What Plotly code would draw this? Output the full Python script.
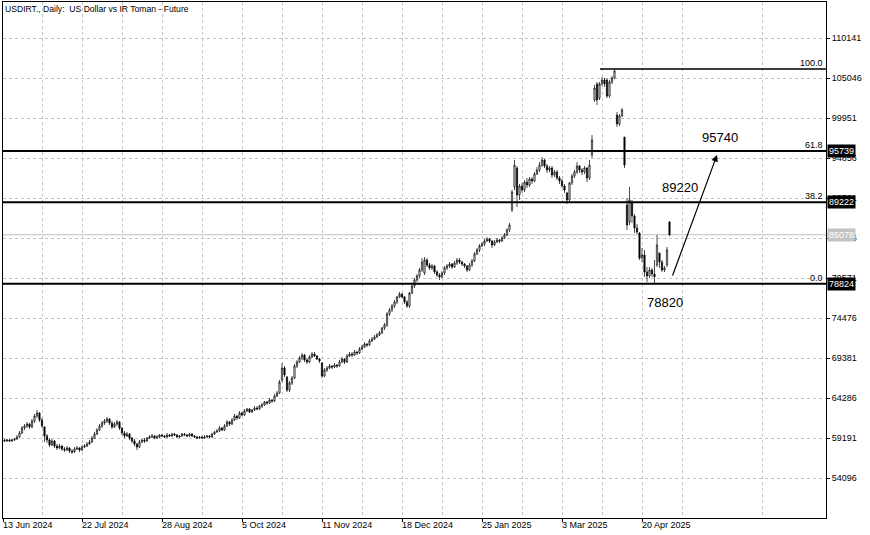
import plotly.graph_objects as go

# ---------------- data (daily bars) ----------------
open_ = [
    58940, 58810, 58940, 58810, 58940, 59060, 59320, 59830, 60460, 60720,
    60970, 60590, 61360, 61990, 62380, 61480, 60590, 59450, 58940, 58300,
    58810, 58170, 57920, 58170, 57790, 57660, 57920, 57540, 57410, 57790,
    57920, 57660, 58040, 58170, 58430, 58680, 59190, 59700, 60210, 60720,
    61100, 61360, 61610, 61100, 60590, 60970, 61230, 60460, 59830, 59450,
    59700, 59190, 58810, 58430, 58040, 58680, 58940, 58810, 59190, 59320,
    59450, 59190, 59320, 59570, 59450, 59320, 59570, 59450, 59700, 59570,
    59320, 59450, 59700, 59570, 59450, 59700, 59450, 59320, 59190, 59320,
    59190, 59320, 59450, 59320, 59700, 59960, 60080, 60460, 60210, 60720,
    61230, 60970, 61480, 61990, 61740, 62380, 62120, 62630, 62890, 62500,
    62760, 63010, 62890, 63270, 63400, 63780, 63650, 64030, 63900, 64540,
    64920, 66580, 68110, 66960, 65310, 66200, 66830, 68360, 68870, 69380,
    69760, 69130, 68870, 69510, 69890, 69640, 69250, 68740, 67090, 67850,
    68110, 68360, 68230, 68490, 68360, 68870, 69250, 68870, 69640, 69890,
    69760, 70150, 70020, 70530, 70780, 71160, 71040, 71550, 71800, 72060,
    72310, 72570, 73200, 73590, 74990, 75500, 76010, 76510, 77150, 77530,
    77150, 76510, 76010, 77660, 78550, 79320, 79830, 80590, 80210, 81860,
    81230, 80850, 81100, 80340, 79950, 79700, 80210, 80850, 81100, 81350,
    80970, 81480, 81860, 81610, 81350, 81100, 80590, 81230, 81740, 82630,
    83140, 83650, 83900, 84280, 84540, 84280, 83770, 84160, 84410, 84280,
    84670, 85050, 85690, 88230, 91160, 93580, 90140, 91290, 90780, 91800,
    91420, 92180, 91930, 92820, 93330, 93960, 94600, 93840, 93330, 93580,
    92690, 93070, 92310, 91930, 91290, 90400, 89510, 91670, 92560, 93070,
    93840, 93330, 93070, 93580, 92310, 95240, 102240, 104280, 102500, 104280,
    104790, 104790, 102750, 104540, 105050, 100330, 99190, 100210, 97530, 88870,
    86700, 89250, 87470, 85940, 85300, 82120, 82500, 80340, 79830, 80590,
    80080, 81230, 82760, 81610, 80590, 81230, 86700,
]
high = [
    59060, 59060, 59060, 59060, 59190, 59570, 60080, 60720, 60970, 61230,
    61100, 61610, 62250, 62760, 62500, 61740, 60720, 59700, 59190, 59060,
    58940, 58430, 58430, 58300, 58040, 58170, 58040, 57790, 58040, 58170,
    58040, 58300, 58430, 58680, 58940, 59450, 59960, 60460, 60970, 61360,
    61610, 61870, 61740, 61360, 61230, 61480, 61360, 60590, 60080, 59960,
    59830, 59320, 59060, 58550, 58940, 59060, 59190, 59320, 59570, 59700,
    59570, 59570, 59700, 59700, 59570, 59830, 59700, 59830, 59830, 59700,
    59570, 59830, 59830, 59700, 59830, 59830, 59570, 59450, 59450, 59450,
    59570, 59570, 59570, 59830, 60080, 60340, 60720, 60590, 60970, 61480,
    61360, 61740, 62250, 62120, 62630, 62500, 62890, 63010, 63010, 62890,
    63270, 63270, 63400, 63650, 63900, 63900, 64290, 64160, 64800, 65180,
    66580, 68740, 68360, 67090, 66450, 67090, 68620, 69130, 69640, 70020,
    69890, 69380, 69760, 70150, 70150, 69760, 69380, 68870, 68110, 68360,
    68620, 68490, 68740, 68620, 69130, 69510, 69380, 69890, 70150, 70150,
    70400, 70270, 70780, 71040, 71420, 71290, 71800, 72060, 72310, 72570,
    72820, 73330, 73840, 75240, 75750, 76260, 76770, 77280, 77790, 77660,
    77280, 76770, 77790, 78810, 79570, 80080, 80850, 82120, 82250, 82120,
    81480, 81350, 81230, 80590, 80210, 80460, 81100, 81350, 81610, 81480,
    81740, 82120, 82120, 81740, 81480, 81230, 81480, 81990, 82880, 83390,
    83900, 84160, 84540, 84790, 84670, 84410, 84410, 84670, 84540, 84920,
    85300, 85940, 86580, 90780, 94600, 93840, 91540, 91670, 92050, 92310,
    92440, 92440, 93070, 93710, 94350, 94980, 94730, 94090, 93840, 93840,
    93330, 93330, 92560, 92180, 91540, 90530, 91800, 92820, 93330, 94350,
    93960, 93580, 93840, 93710, 94600, 97790, 104150, 104540, 104540, 105170,
    105050, 105050, 104790, 105300, 106190, 100720, 100460, 101230, 97530, 89760,
    91160, 89510, 87720, 86450, 85430, 83390, 83140, 80970, 80970, 80850,
    81860, 85050, 82760, 81860, 81100, 83520, 86830,
]
low = [
    58680, 58680, 58680, 58680, 58810, 58940, 59190, 59700, 60210, 60460,
    60340, 60460, 61100, 61740, 61230, 60460, 58680, 58550, 58040, 58170,
    57920, 57660, 57790, 57540, 57410, 57540, 57280, 57150, 57280, 57660,
    57410, 57540, 57920, 58040, 58300, 58550, 59060, 59570, 60080, 60460,
    60850, 61100, 60850, 60340, 60460, 60720, 60210, 59570, 59190, 59320,
    58940, 58550, 58170, 57660, 57920, 58550, 58550, 58680, 59060, 59190,
    59060, 59060, 59190, 59320, 59190, 59190, 59320, 59320, 59450, 59190,
    59190, 59320, 59450, 59320, 59320, 59320, 59190, 59060, 59060, 59060,
    59060, 59190, 59190, 59190, 59570, 59830, 59960, 60080, 60080, 60590,
    60720, 60850, 61360, 61480, 61610, 61990, 61990, 62500, 62380, 62380,
    62630, 62760, 62760, 63010, 63270, 63400, 63520, 63650, 63780, 64410,
    64800, 66320, 66960, 65050, 65050, 65940, 66710, 68110, 68740, 69130,
    68870, 68620, 68740, 69380, 69510, 69130, 68740, 66830, 66960, 67600,
    67980, 67980, 68110, 68110, 68230, 68740, 68620, 68740, 69510, 69510,
    69640, 69760, 69890, 70400, 70650, 70780, 70910, 71420, 71670, 71930,
    72180, 72440, 72950, 73330, 74730, 75240, 75750, 76260, 77020, 77020,
    76260, 75750, 75750, 77530, 78300, 79060, 79570, 80340, 79950, 80970,
    80590, 80590, 80080, 79700, 79320, 79570, 79950, 80590, 80850, 80720,
    80850, 81230, 81350, 81100, 80850, 80340, 80460, 80970, 81610, 82500,
    82880, 83520, 83650, 84160, 84030, 83390, 83650, 84030, 84030, 84160,
    84540, 84920, 85430, 87980, 90780, 88610, 89510, 90400, 90530, 91030,
    91160, 91540, 91800, 92690, 93070, 93710, 93580, 92950, 93070, 92310,
    92440, 92050, 91540, 91030, 90400, 89000, 89250, 91420, 92310, 92820,
    92950, 92690, 92820, 91800, 92050, 94860, 101990, 101610, 102240, 104030,
    103900, 102500, 102500, 104280, 104920, 98810, 98930, 100080, 93580, 85690,
    86320, 86580, 85300, 85180, 81860, 81610, 79700, 79060, 79570, 79700,
    78930, 80970, 80850, 80340, 80340, 80970, 84920,
]
close = [
    58810, 58940, 58810, 58940, 59060, 59320, 59830, 60460, 60720, 60970,
    60590, 61360, 61990, 62380, 61480, 60720, 59450, 58940, 58300, 58810,
    58170, 57920, 58170, 57790, 57660, 57920, 57540, 57410, 57790, 57920,
    57660, 58040, 58170, 58430, 58680, 59190, 59700, 60210, 60720, 61100,
    61360, 61610, 61100, 60590, 60970, 61230, 60460, 59830, 59450, 59700,
    59190, 58810, 58430, 58040, 58680, 58940, 58810, 59190, 59320, 59450,
    59190, 59320, 59570, 59450, 59320, 59570, 59450, 59700, 59570, 59320,
    59450, 59700, 59570, 59450, 59700, 59450, 59320, 59190, 59320, 59190,
    59320, 59450, 59320, 59700, 59960, 60080, 60460, 60210, 60720, 61230,
    60970, 61480, 61990, 61740, 62380, 62120, 62630, 62890, 62500, 62760,
    63010, 62890, 63270, 63400, 63780, 63650, 64030, 63900, 64540, 64920,
    66320, 68110, 67220, 65310, 66200, 66830, 68360, 68870, 69380, 69760,
    69130, 68870, 69510, 69890, 69640, 69250, 69000, 67090, 67850, 68110,
    68360, 68230, 68490, 68360, 68870, 69250, 68870, 69640, 69890, 69760,
    70150, 70020, 70530, 70780, 71160, 71040, 71550, 71800, 72060, 72310,
    72570, 73200, 73590, 74990, 75500, 76010, 76510, 77150, 77530, 77150,
    76510, 76010, 77660, 78550, 79320, 79830, 80590, 81610, 81860, 81230,
    80850, 81100, 80340, 79950, 79700, 80210, 80850, 81100, 81350, 80970,
    81480, 81860, 81610, 81350, 81100, 80590, 81230, 81740, 82630, 83140,
    83650, 83900, 84280, 84540, 84280, 83770, 84160, 84410, 84280, 84670,
    85050, 85690, 86320, 90530, 93960, 90140, 91290, 90780, 91800, 91420,
    92180, 91930, 92820, 93330, 93960, 94600, 93840, 93330, 93580, 92690,
    93070, 92310, 91930, 91290, 90780, 89510, 91670, 92560, 93070, 93840,
    93330, 93070, 93580, 92310, 93960, 97150, 103770, 102240, 104280, 104790,
    104280, 102750, 104540, 105050, 105940, 99190, 100210, 100970, 93960, 86320,
    89510, 87470, 85940, 85430, 82120, 82500, 80340, 79830, 80590, 80080,
    79700, 83770, 81610, 80590, 80850, 83140, 85078,
]
bars = list(range(1, len(close) + 1))

date_labels = ["13 Jun 2024", "22 Jul 2024", "28 Aug 2024", "5 Oct 2024",
               "11 Nov 2024", "18 Dec 2024", "25 Jan 2025", "3 Mar 2025",
               "20 Apr 2025"]
date_label_bars = [0.4, 32, 64, 96, 128, 160, 192, 224, 256]
grid_mid_bars = [16, 48, 80, 112, 144, 176, 208, 240, 272, 304]

price_ticks = [54096, 59191, 64286, 69381, 74476, 79571, 84666,
               89761, 94856, 99951, 105046, 110141]

fib_texts = ["100.0", "61.8", "38.2", "0.0"]
fib_prices = [106190, 95739, 89222, 78824]
fib_start_bar = 239.2
hline_prices = [95739, 89222, 78824]
bid_price = 85078

target_texts = ["95740", "89220", "78820"]
target_bars = [287.2, 271.2, 265.2]
target_prices = [97530, 91160, 76510]
arrow_from = (268, 79698)
arrow_to = (286, 95238)

title_text = "USDIRT., Daily:\u00a0 US Dollar vs IR Toman - Future"

# ---------------- figure ----------------
X_RANGE = [0.4, 329.6]
Y_RANGE = [49001, 114726]
FONT = "Liberation Sans, Arial, sans-serif"
GRID = "#c4c4c4"

fig = go.Figure(go.Candlestick(
    x=bars, open=open_, high=high, low=low, close=close,
    increasing=dict(line=dict(color="black", width=0.7), fillcolor="white"),
    decreasing=dict(line=dict(color="black", width=0.7), fillcolor="black"),
    whiskerwidth=0, hoverinfo="skip", showlegend=False,
))

shapes = []
for p in hline_prices:
    shapes.append(dict(type="line", xref="paper", x0=0, x1=1, yref="y", y0=p, y1=p,
                       line=dict(color="black", width=2)))
shapes.append(dict(type="line", xref="x", x0=fib_start_bar, x1=X_RANGE[1], yref="y",
                   y0=fib_prices[0], y1=fib_prices[0], line=dict(color="black", width=1.3)))
shapes.append(dict(type="line", xref="paper", x0=0, x1=1, yref="y", y0=bid_price, y1=bid_price,
                   line=dict(color="#c0c0c0", width=1), layer="below"))

ann = []
ann.append(dict(x=0, xref="paper", y=1, yref="paper", xanchor="left", yanchor="top",
                xshift=0, yshift=0, text=title_text, showarrow=False,
                font=dict(size=8.6, color="black", family=FONT)))
for lab, b in zip(date_labels, date_label_bars):
    ann.append(dict(x=b, xref="x", y=0, yref="paper", xanchor="left", yanchor="top",
                    xshift=-2, yshift=0, text=lab, showarrow=False,
                    font=dict(size=9, color="black", family=FONT)))
for t, p in zip(fib_texts, fib_prices):
    ann.append(dict(x=1, xref="paper", y=p, yref="y", xanchor="right", yanchor="bottom",
                    xshift=-1, yshift=-1, text=t, showarrow=False,
                    font=dict(size=9, color="black", family=FONT)))
for p in hline_prices:
    ann.append(dict(x=1, xref="paper", y=p, yref="y", xanchor="left", yanchor="middle",
                    xshift=1, text=str(p), showarrow=False, bgcolor="black", borderpad=1,
                    font=dict(size=9, color="white", family=FONT)))
ann.append(dict(x=1, xref="paper", y=bid_price, yref="y", xanchor="left", yanchor="middle",
                xshift=1, text=str(bid_price), showarrow=False, bgcolor="#c3c3c3", borderpad=1,
                font=dict(size=9, color="white", family=FONT)))
for t, b, p in zip(target_texts, target_bars, target_prices):
    ann.append(dict(x=b, xref="x", y=p, yref="y", text=t, showarrow=False,
                    font=dict(size=13, color="black", family=FONT)))
ann.append(dict(x=arrow_to[0], y=arrow_to[1], xref="x", yref="y",
                ax=arrow_from[0], ay=arrow_from[1], axref="x", ayref="y",
                text="", showarrow=True, arrowhead=2, arrowsize=1.1,
                arrowwidth=1.2, arrowcolor="black"))

fig.update_layout(
    width=870, height=535,
    margin=dict(l=3, r=44, t=2, b=17, autoexpand=False),
    paper_bgcolor="white", plot_bgcolor="white",
    font=dict(family=FONT, size=9, color="black"),
    showlegend=False,
    shapes=shapes, annotations=ann,
    xaxis=dict(
        range=X_RANGE, rangeslider=dict(visible=False), automargin=False,
        showline=True, mirror=True, linecolor="black", linewidth=1,
        tickmode="array", tickvals=date_label_bars, showticklabels=False,
        ticks="outside", ticklen=3, tickcolor="black",
        showgrid=True, gridcolor=GRID, griddash="dot", gridwidth=1,
        zeroline=False,
        minor=dict(tickmode="array", tickvals=grid_mid_bars, showgrid=True,
                   gridcolor=GRID, griddash="dot", gridwidth=1, ticks=""),
    ),
    yaxis=dict(
        side="right", range=Y_RANGE, automargin=False,
        tickmode="array", tickvals=price_ticks, ticktext=[str(v) for v in price_ticks],
        ticks="outside", ticklen=3, tickcolor="black",
        showline=True, mirror=True, linecolor="black", linewidth=1,
        showgrid=True, gridcolor=GRID, griddash="dot", gridwidth=1,
        zeroline=False, tickfont=dict(size=9, color="black", family=FONT),
    ),
)

fig.write_html(
    "out.html",
    config={"displayModeBar": False},
    post_script="document.body.style.margin='0';document.body.style.overflow='hidden';",
)
